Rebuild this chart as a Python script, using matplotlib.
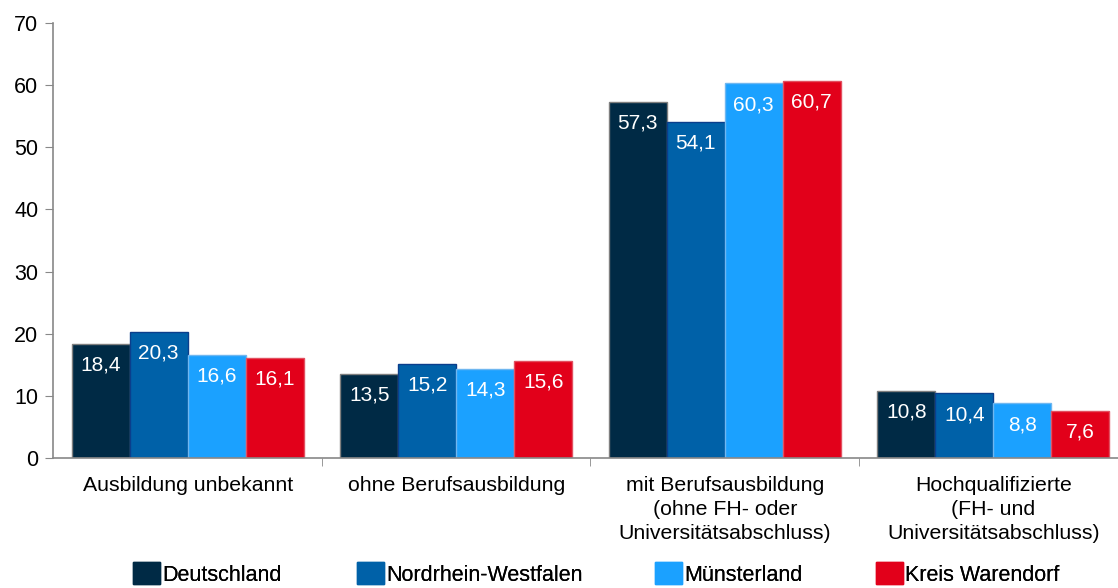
import matplotlib
matplotlib.use("Agg")
import matplotlib.pyplot as plt
import numpy as np
from matplotlib.patches import Patch

categories = ["Ausbildung unbekannt", "ohne Berufsausbildung",
              "mit Berufsausbildung\n(ohne FH- oder\nUniversitätsabschluss)",
              "Hochqualifizierte\n(FH- und\nUniversitätsabschluss)"]
series = ["Deutschland", "Nordrhein-Westfalen", "Münsterland", "Kreis Warendorf"]
deutschland = [18.4, 13.5, 57.3, 10.8]
nrw = [20.3, 15.2, 54.1, 10.4]
muensterland = [16.6, 14.3, 60.3, 8.8]
warendorf = [16.1, 15.6, 60.7, 7.6]
values = [deutschland, nrw, muensterland, warendorf]
colors = ["#002A45", "#0061A8", "#1BA1FF", "#E2001A"]
edges = ["#7F7F7F", "#0B3E8C", "#6FB7F0", "#E25060"]
yticks = [0, 10, 20, 30, 40, 50, 60, 70]

plt.rcParams['font.family'] = ['Liberation Sans', 'DejaVu Sans']

fig = plt.figure(figsize=(11.18, 5.88), dpi=100)
ax = fig.add_axes([0.0478, 0.2211, 0.9607, 0.7398])

x = np.arange(len(categories))
w = 0.216
for i, (vals, c, ec) in enumerate(zip(values, colors, edges)):
    pos = x + (i - 1.5) * w
    bars = ax.bar(pos, vals, width=w, color=c, edgecolor=ec, linewidth=1.0, label=series[i], zorder=2)
    for b, v in zip(bars, vals):
        ax.text(b.get_x() + b.get_width() / 2, v - 1.9, f"{v:.1f}".replace(".", ","),
                ha="center", va="top", color="white", fontsize=15, zorder=3)

ax.set_xlim(-0.5, 3.5)
ax.set_ylim(0, 70)
ax.set_yticks(yticks)
ax.set_yticklabels([str(t) for t in yticks], fontsize=15.5)
ax.set_xticks(x)
ax.set_xticklabels(categories, fontsize=15.3, linespacing=1.32, va="top")
ax.tick_params(axis="x", which="major", length=0, pad=13)
ax.set_xticks([0.5, 1.5, 2.5], minor=True)
ax.tick_params(axis="x", which="minor", length=6, color="#888888", direction="out")
ax.tick_params(axis="y", length=6, color="#888888", direction="out", pad=5)
for s in ["top", "right"]:
    ax.spines[s].set_visible(False)
for s in ["left", "bottom"]:
    ax.spines[s].set_color("#888888")
    ax.spines[s].set_linewidth(1.2)

legend_x = [0.119, 0.3193, 0.5859, 0.7835]
for name, c, lx in zip(series, colors, legend_x):
    leg = fig.legend([Patch(facecolor=c, edgecolor=c)], [name], loc="lower left",
                     bbox_to_anchor=(lx, 0.004), frameon=False, fontsize=15.5,
                     handlelength=1.25, handleheight=1.2, handletextpad=0.1,
                     borderpad=0, borderaxespad=0)
    fig.add_artist(leg)

fig.savefig("out.png", dpi=100)
